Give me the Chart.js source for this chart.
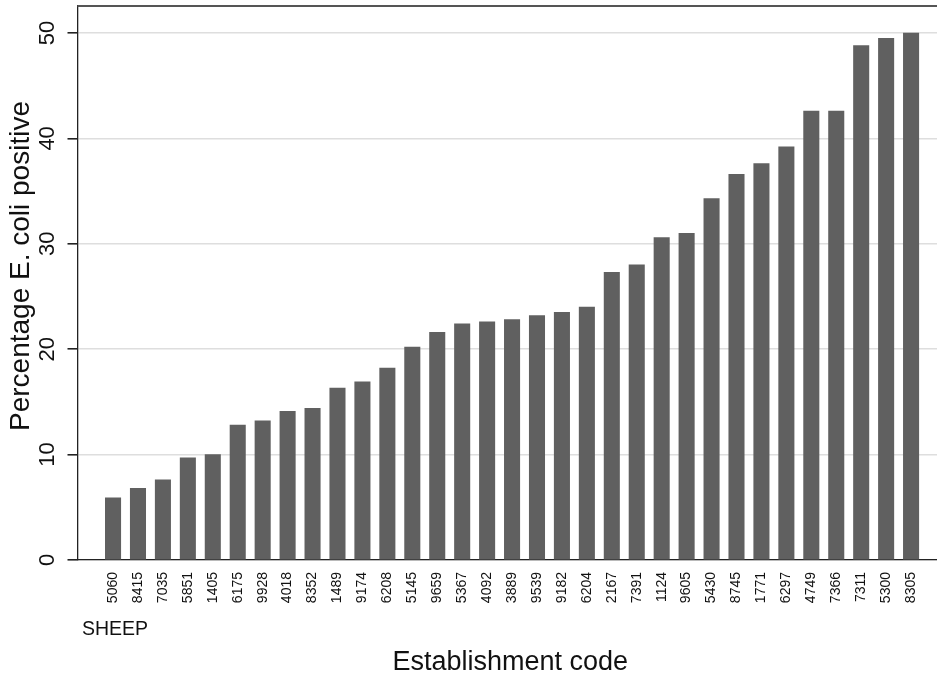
<!DOCTYPE html>
<html><head><meta charset="utf-8">
<script src="https://cdn.jsdelivr.net/npm/chart.js@4.4.0/dist/chart.umd.min.js"></script>
<style>html,body{margin:0;padding:0;background:#fff}#wrap{width:937px;height:675px;position:relative}</style>
</head><body><div id="wrap"><canvas id="c" width="937" height="675"></canvas></div>
<script>
const categories = ['5060','8415','7035','5851','1405','6175','9928','4018','8352','1489','9174','6208','5145','9659','5367','4092','3889','9539','9182','6204','2167','7391','1124','9605','5430','8745','1771','6297','4749','7366','7311','5300','8305'];
const values = [5.9,6.8,7.6,9.7,10.0,12.8,13.2,14.1,14.4,16.3,16.9,18.2,20.2,21.6,22.4,22.6,22.8,23.2,23.5,24.0,27.3,28.0,30.6,31.0,34.3,36.6,37.6,39.2,42.6,42.6,48.8,49.5,50.0];
const yTicks = [0,10,20,30,40,50];
const yTitle = 'Percentage E. coli positive';
const xTitle = 'Establishment code';
const groupLabel = 'SHEEP';

const FONT = "'Liberation Sans', Arial, Helvetica, sans-serif";

const extras = {
  id: 'extras',
  afterDraw(chart) {
    const ctx = chart.ctx, a = chart.chartArea, ys = chart.scales.y;
    ctx.save();
    // top outline
    ctx.strokeStyle = '#555';
    ctx.lineWidth = 2;
    ctx.beginPath(); ctx.moveTo(a.left, a.top); ctx.lineTo(chart.width, a.top); ctx.stroke();
    ctx.fillStyle = '#111';
    // y tick labels (rotated)
    ctx.font = '22px ' + FONT;
    ctx.textAlign = 'center'; ctx.textBaseline = 'alphabetic';
    yTicks.forEach(v => {
      const y = ys.getPixelForValue(v);
      ctx.save(); ctx.translate(54, y); ctx.rotate(-Math.PI/2); ctx.fillText(String(v), 0, 0); ctx.restore();
    });
    // y title
    ctx.font = '28px ' + FONT;
    ctx.save(); ctx.translate(29, 266); ctx.rotate(-Math.PI/2); ctx.fillText(yTitle, 0, 0); ctx.restore();
    // x title
    ctx.font = '27px ' + FONT;
    ctx.fillText(xTitle, (a.left + a.right)/2 + 3, 670);
    // group label
    ctx.font = '19.5px ' + FONT;
    ctx.textAlign = 'left';
    ctx.fillText(groupLabel, 82, 635);
    ctx.restore();
  }
};

new Chart(document.getElementById('c'), {
  type: 'bar',
  data: {
    datasets: [{
      data: values.map((v, i) => ({x: i, y: v})),
      backgroundColor: '#606060',
      borderWidth: 0,
      barThickness: 15.4
    }]
  },
  options: {
    responsive: false,
    animation: false,
    layout: {padding: {top: 6, right: 0, left: 0, bottom: 0}},
    plugins: {legend: {display: false}, tooltip: {enabled: false}},
    scales: {
      x: {
        type: 'linear', min: -1.425, max: 33.04, offset: false,
        grid: {display: false, drawTicks: false, offset: false},
        border: {display: true, color: '#222', width: 1.3},
        ticks: {
          autoSkip: false, minRotation: 90, maxRotation: 90, padding: 12,
          font: {family: FONT, size: 14}, color: '#111',
          callback: (v) => categories[v]
        },
        afterBuildTicks: s => { s.ticks = categories.map((c, i) => ({value: i})); },
        afterFit: s => { s.height = 115; s.paddingLeft = 0; s.paddingRight = 0; }
      },
      y: {
        min: 0, max: 52.56,
        grid: {color: '#dedede', lineWidth: 1.6, tickLength: 10, tickColor: '#222', drawTicks: true},
        border: {display: true, color: '#222', width: 1.3},
        ticks: {display: false},
        afterBuildTicks: s => { s.ticks = yTicks.map(v => ({value: v})); },
        afterFit: s => { s.width = 77.5; s.paddingTop = 0; s.paddingBottom = 0; }
      }
    }
  },
  plugins: [extras]
});
</script>
</body></html>
